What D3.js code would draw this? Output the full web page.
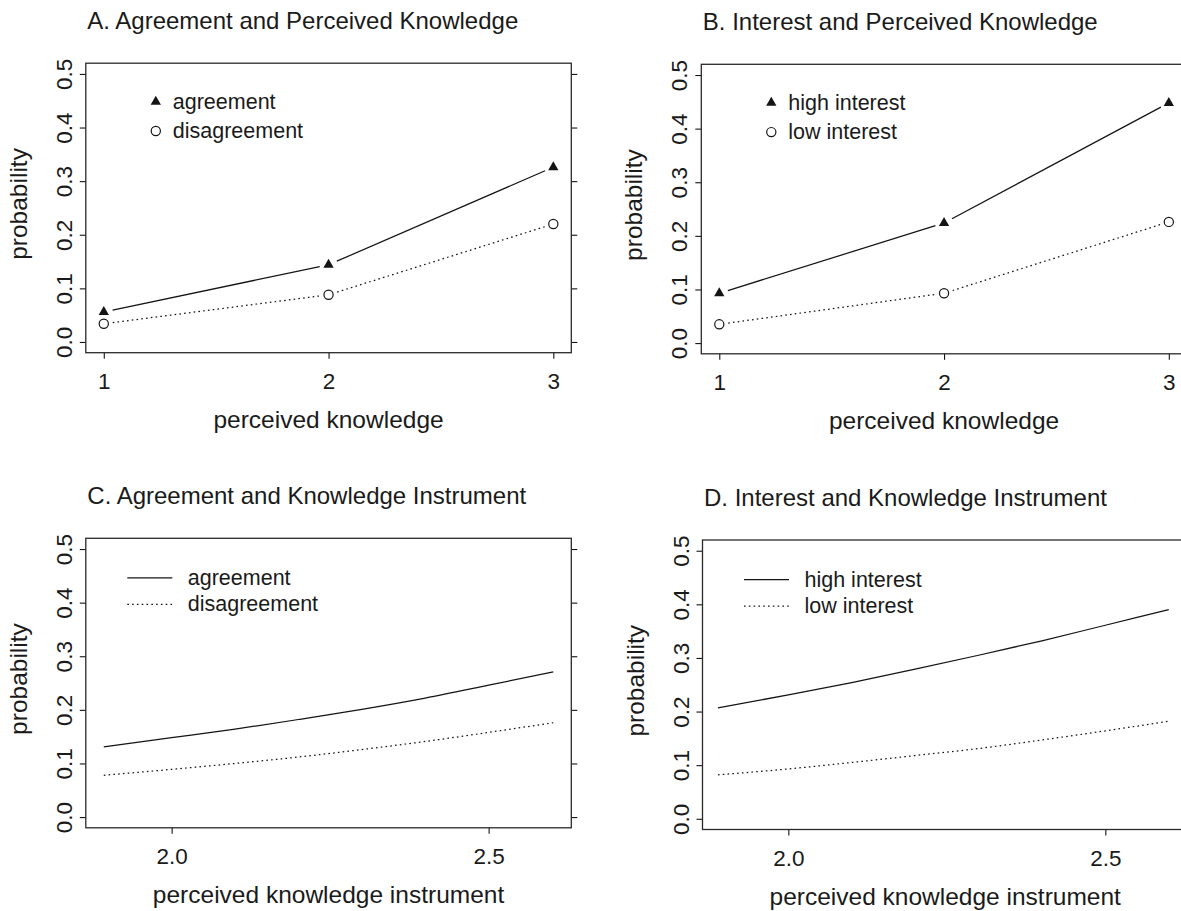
<!DOCTYPE html>
<html>
<head>
<meta charset="utf-8">
<script src="https://cdn.jsdelivr.net/npm/d3@7"></script>
<style>
  body { margin: 0; background: #fff; }
  svg { display: block; font-family: "Liberation Sans", Arial, sans-serif; }
  text { fill: #1a1a1a; }
</style>
</head>
<body>
<div id="viz"></div>
<script>
// data
const knowledgeLevels = [1, 2, 3];
const agreeByLevel = [0.056, 0.144, 0.326];
const disagreeByLevel = [0.034, 0.088, 0.220];
const highInterestByLevel = [0.093, 0.224, 0.448];
const lowInterestByLevel = [0.035, 0.093, 0.226];

const instrumentC = [1.893, 2.0, 2.1, 2.2, 2.3, 2.4, 2.5, 2.602];
const agreeByInstrument = [0.131, 0.148, 0.164, 0.182, 0.201, 0.222, 0.246, 0.271];
const disagreeByInstrument = [0.078, 0.089, 0.100, 0.112, 0.126, 0.141, 0.158, 0.176];

const instrumentD = [1.889, 2.0, 2.1, 2.2, 2.3, 2.4, 2.5, 2.6];
const highInterestByInstrument = [0.207, 0.231, 0.254, 0.279, 0.305, 0.332, 0.361, 0.390];
const lowInterestByInstrument = [0.082, 0.093, 0.105, 0.118, 0.131, 0.147, 0.164, 0.182];

const yTicks = [0, 0.1, 0.2, 0.3, 0.4, 0.5];
const xTicksLevel = [1, 2, 3];
const xTicksInstrument = [2.0, 2.5];

const W = 1181, H = 911;
const plotW = 485.5, plotH = 289.5;
const ink = '#141414';

const svg = d3.select('#viz').append('svg')
  .attr('width', W).attr('height', H)
  .attr('viewBox', `0 0 ${W} ${H}`);

svg.append('rect').attr('width', W).attr('height', H).attr('fill', '#fff');

const panels = [
  { left: 85.8, top: 63.2, title: 'A. Agreement and Perceived Knowledge', kind: 'points',
    xs: knowledgeLevels, xDomain: [0.92, 3.08], xTicks: xTicksLevel, xFmt: d3.format('d'),
    xLabel: 'perceived knowledge',
    series: [{ name: 'agreement', ys: agreeByLevel, solid: true },
             { name: 'disagreement', ys: disagreeByLevel, solid: false }] },
  { left: 701.3, top: 64.3, title: 'B. Interest and Perceived Knowledge', kind: 'points',
    xs: knowledgeLevels, xDomain: [0.92, 3.08], xTicks: xTicksLevel, xFmt: d3.format('d'),
    xLabel: 'perceived knowledge',
    series: [{ name: 'high interest', ys: highInterestByLevel, solid: true },
             { name: 'low interest', ys: lowInterestByLevel, solid: false }] },
  { left: 85.8, top: 538.3, title: 'C. Agreement and Knowledge Instrument', kind: 'curves',
    xs: instrumentC, xDomain: [1.8646, 2.6304], xTicks: xTicksInstrument, xFmt: d3.format('.1f'),
    xLabel: 'perceived knowledge instrument',
    series: [{ name: 'agreement', ys: agreeByInstrument, solid: true },
             { name: 'disagreement', ys: disagreeByInstrument, solid: false }] },
  { left: 702.5, top: 540, title: 'D. Interest and Knowledge Instrument', kind: 'curves',
    xs: instrumentD, xDomain: [1.8646, 2.6304], xTicks: xTicksInstrument, xFmt: d3.format('.1f'),
    xLabel: 'perceived knowledge instrument',
    series: [{ name: 'high interest', ys: highInterestByInstrument, solid: true },
             { name: 'low interest', ys: lowInterestByInstrument, solid: false }] },
];

const triangle = d3.symbol().type(d3.symbolTriangle).size(46);

function drawPanel(p) {
  const g = svg.append('g').attr('transform', `translate(${p.left},${p.top})`);

  const x = d3.scaleLinear().domain(p.xDomain).range([0, plotW]);
  const y = d3.scaleLinear().domain([-0.02, 0.52]).range([plotH, 0]);

  // title
  svg.append('text')
    .attr('x', p.left + 1.5).attr('y', p.top - 34)
    .attr('font-size', 24)
    .text(p.title);

  // left axis with rotated labels
  const yAxis = g.append('g')
    .call(d3.axisLeft(y).tickValues(yTicks).tickSize(6).tickFormat(d3.format('.1f')));
  yAxis.select('.domain').remove();
  yAxis.selectAll('line').attr('stroke', ink).attr('stroke-width', 1.1);
  yAxis.selectAll('text')
    .attr('x', 0).attr('y', -14).attr('dy', null)
    .attr('transform', 'rotate(-90)')
    .attr('text-anchor', 'middle')
    .attr('font-size', 22.5)
    .attr('font-family', '"Liberation Sans", Arial, sans-serif')
    .style('fill', '#1a1a1a');

  // right axis, ticks only
  const yAxisR = g.append('g').attr('transform', `translate(${plotW},0)`)
    .call(d3.axisRight(y).tickValues(yTicks).tickSize(6).tickFormat(''));
  yAxisR.select('.domain').remove();
  yAxisR.selectAll('line').attr('stroke', ink).attr('stroke-width', 1.1);

  // bottom axis
  const xAxis = g.append('g').attr('transform', `translate(0,${plotH})`)
    .call(d3.axisBottom(x).tickValues(p.xTicks).tickSize(6).tickFormat(p.xFmt));
  xAxis.select('.domain').remove();
  xAxis.selectAll('line').attr('stroke', ink).attr('stroke-width', 1.1);
  xAxis.selectAll('text')
    .attr('y', 28).attr('dy', '0.36em')
    .attr('font-size', 22.5)
    .attr('font-family', '"Liberation Sans", Arial, sans-serif')
    .style('fill', '#1a1a1a');

  // box
  g.append('rect')
    .attr('width', plotW).attr('height', plotH)
    .attr('fill', 'none').attr('stroke', '#2a2a2a').attr('stroke-width', 1.3);

  // axis titles
  g.append('text')
    .attr('x', plotW / 2).attr('y', plotH + 75)
    .attr('text-anchor', 'middle').attr('font-size', 24.5)
    .text(p.xLabel);
  g.append('text')
    .attr('transform', `translate(-59,${plotH / 2 - 4}) rotate(-90)`)
    .attr('text-anchor', 'middle').attr('font-size', 24.5)
    .text('probability');

  const dash = '1.6,3.2';

  if (p.kind === 'points') {
    p.series.forEach(s => {
      const pts = p.xs.map((xv, i) => [x(xv), y(s.ys[i])]);
      // connecting segments stop short of the symbols
      const gap = 9;
      d3.pairs(pts).forEach(([a, b]) => {
        const dx = b[0] - a[0], dy = b[1] - a[1];
        const len = Math.hypot(dx, dy);
        const ux = dx / len, uy = dy / len;
        g.append('line')
          .attr('x1', a[0] + ux * gap).attr('y1', a[1] + uy * gap)
          .attr('x2', b[0] - ux * gap).attr('y2', b[1] - uy * gap)
          .attr('stroke', ink).attr('stroke-width', 1.25)
          .attr('stroke-dasharray', s.solid ? null : dash);
      });
      if (s.solid) {
        g.selectAll(null).data(pts).join('path')
          .attr('d', triangle)
          .attr('transform', d => `translate(${d[0]},${d[1]})`)
          .attr('fill', ink);
      } else {
        g.selectAll(null).data(pts).join('circle')
          .attr('cx', d => d[0]).attr('cy', d => d[1]).attr('r', 4.6)
          .attr('fill', '#fff').attr('stroke', ink).attr('stroke-width', 1.2);
      }
    });

    // legend
    p.series.forEach((s, i) => {
      const ly = 38.5 + i * 29.3;
      if (s.solid) {
        g.append('path').attr('d', triangle)
          .attr('transform', `translate(70,${ly})`).attr('fill', ink);
      } else {
        g.append('circle').attr('cx', 70).attr('cy', ly).attr('r', 4.6)
          .attr('fill', '#fff').attr('stroke', ink).attr('stroke-width', 1.2);
      }
      g.append('text').attr('x', 87).attr('y', ly + 7)
        .attr('font-size', 21.5).text(s.name);
    });
  } else {
    const line = d3.line().x(d => x(d[0])).y(d => y(d[1])).curve(d3.curveMonotoneX);
    p.series.forEach(s => {
      g.append('path')
        .datum(p.xs.map((xv, i) => [xv, s.ys[i]]))
        .attr('d', line)
        .attr('fill', 'none').attr('stroke', ink).attr('stroke-width', 1.25)
        .attr('stroke-dasharray', s.solid ? null : dash);
    });

    p.series.forEach((s, i) => {
      const ly = 39.5 + i * 26.5;
      g.append('line')
        .attr('x1', 41.5).attr('x2', 86.5).attr('y1', ly).attr('y2', ly)
        .attr('stroke', ink).attr('stroke-width', 1.25)
        .attr('stroke-dasharray', s.solid ? null : dash);
      g.append('text').attr('x', 102).attr('y', ly + 7)
        .attr('font-size', 21.5).text(s.name);
    });
  }
}

panels.forEach(drawPanel);
</script>
</body>
</html>
